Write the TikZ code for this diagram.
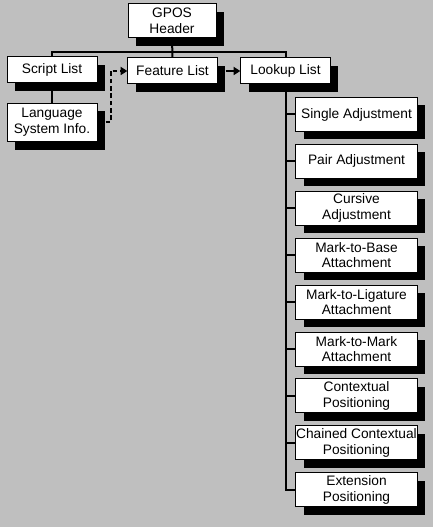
\documentclass[tikz,border=0pt]{standalone}
\usepackage{fontspec}
\setmainfont{Liberation Sans}
\usetikzlibrary{arrows.meta,shadows}

\begin{document}
\begin{tikzpicture}[
  x=0.75pt,y=-0.75pt,
  box/.style={draw,line width=0.75pt,fill=white,align=center,inner sep=0.5pt,
    font=\fontsize{10.3}{11.8}\selectfont,
    drop shadow={shadow xshift=6pt,shadow yshift=-6pt,fill=black,opacity=1}},
  link/.style={line width=1.5pt},
  tip/.style={-{Triangle[length=5pt,width=6pt]}}
]
\fill[gray!50] (0,0) rectangle (433,527);
\useasboundingbox (0,0) rectangle (433,527);

\node[box,minimum width=66pt,minimum height=25.5pt] (gpos) at (172,21) {GPOS\\Header};
\node[box,minimum width=67.5pt,minimum height=19.5pt] (script) at (52,70) {Script List};
\node[box,minimum width=67.5pt,minimum height=29pt] (lang) at (52,122.5) {Language\\System Info.};
\node[box,minimum width=67pt,minimum height=19.5pt] (feature) at (172.5,71) {Feature List};
\node[box,minimum width=67pt,minimum height=19.5pt] (lookup) at (285.5,71) {Lookup List};

\foreach \name/\txt [count=\i from 0] in {single/Single Adjustment,
    pair/Pair Adjustment,
    cursive/Cursive\\Adjustment,
    base/Mark-to-Base\\Attachment,
    liga/Mark-to-Ligature\\Attachment,
    mark/Mark-to-Mark\\Attachment,
    context/Contextual\\Positioning,
    chained/Chained Contextual\\Positioning,
    ext/Extension\\Positioning}
  \node[box,minimum width=91pt,minimum height=25.5pt] (\name) at (356.5,114.5+46.9*\i) {\txt};

% tree lines
\coordinate (rail) at (0,52);
\draw[link] (gpos.south) -- (feature.north);
\draw[link] (script.north) -- (script.north |- rail) -| (lookup.north);
\draw[link] (script) -- (lang);
\foreach \name in {single,pair,cursive,base,liga,mark,context,chained,ext}
  \draw[link] (lookup.south) |- (\name.west);

% arrows
\draw[link,dash pattern=on 3.5pt off 2pt,tip] ([xshift=6pt]lang.east) -- ++(5,0) |- (feature.west);
\draw[link,tip] ([xshift=6pt]feature.east) -- (lookup.west);
\end{tikzpicture}
\end{document}
